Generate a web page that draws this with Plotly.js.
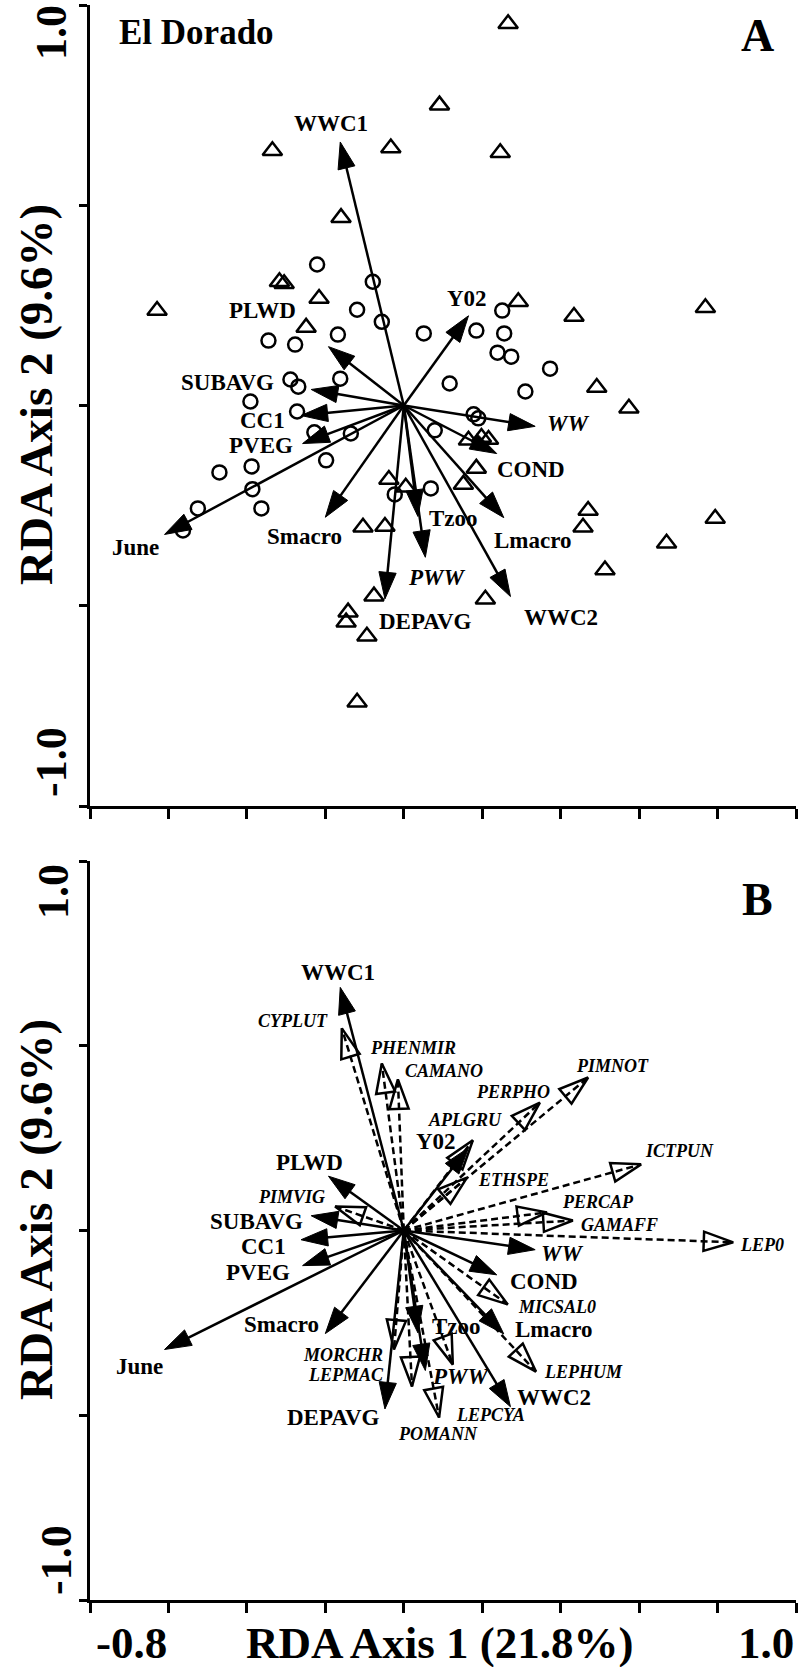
<!DOCTYPE html>
<html><head><meta charset="utf-8">
<script src="https://cdn.plot.ly/plotly-3.0.1.min.js"></script>
<style>html,body{margin:0;padding:0;background:#fff}</style>
</head><body><div id="chart" style="width:800px;height:1667px"></div>
<script>
// ---------- Panel A: site scores ----------
const triX = [0.266,0.091,0.246,-0.335,-0.033,-0.160,-0.317,-0.305,-0.629,-0.216,-0.249,0.292,0.434,0.769,0.492,0.574,0.165,0.198,0.216,0.185,0.152,-0.038,0.005,-0.104,-0.048,0.470,0.457,0.794,0.670,0.513,0.208,-0.076,-0.142,-0.147,-0.094,-0.119];
const triY = [0.953,0.750,0.631,0.636,0.643,0.469,0.309,0.304,0.237,0.267,0.195,0.259,0.222,0.244,0.045,-0.007,-0.087,-0.080,-0.085,-0.157,-0.197,-0.185,-0.204,-0.304,-0.302,-0.262,-0.304,-0.282,-0.344,-0.411,-0.484,-0.476,-0.516,-0.541,-0.576,-0.741];
const cirX = [-0.221,-0.079,-0.119,-0.056,-0.345,-0.277,-0.168,-0.162,-0.289,-0.269,-0.391,-0.272,-0.228,-0.135,-0.198,-0.470,-0.388,-0.386,-0.525,-0.363,-0.563,-0.023,0.069,0.079,0.117,0.051,0.185,0.251,0.256,0.239,0.274,0.373,0.310,0.178,0.190];
const cirY = [0.352,0.309,0.239,0.209,0.162,0.152,0.177,0.067,0.065,0.047,0.010,-0.015,-0.067,-0.070,-0.137,-0.167,-0.152,-0.209,-0.257,-0.257,-0.312,-0.222,-0.207,-0.062,0.055,0.180,0.187,0.237,0.180,0.132,0.122,0.092,0.035,-0.022,-0.032];

// ---------- Environmental variables (both panels) ----------
const envNames = ['WWC1','PLWD','SUBAVG','CC1','PVEG','June','Smacro','DEPAVG','Tzoo','PWW','Lmacro','WWC2','COND','WW','Y02'];
const envX = [-0.162,-0.192,-0.236,-0.262,-0.258,-0.610,-0.200,-0.048,0.036,0.055,0.255,0.272,0.237,0.335,0.165];
const envY = [0.658,0.147,0.040,-0.025,-0.095,-0.322,-0.279,-0.483,-0.277,-0.379,-0.280,-0.477,-0.120,-0.052,0.224];
const envItalic = ['WW','PWW'];
const envLabAX = [-0.185,-0.360,-0.449,-0.360,-0.363,-0.685,-0.254,0.056,0.127,0.084,0.330,0.401,0.325,0.419,0.160];
const envLabAY = [0.703,0.237,0.057,-0.037,-0.100,-0.354,-0.327,-0.539,-0.282,-0.429,-0.337,-0.529,-0.160,-0.045,0.267];
const envLabBX = [-0.168,-0.241,-0.376,-0.358,-0.371,-0.675,-0.312,-0.180,0.135,0.147,0.383,0.383,0.358,0.404,0.081];
const envLabBY = [0.698,0.184,0.024,-0.043,-0.114,-0.368,-0.254,-0.506,-0.260,-0.395,-0.268,-0.452,-0.138,-0.062,0.241];

// ---------- Panel B: species ----------
const spNames = ['CYPLUT','PHENMIR','CAMANO','APLGRU','PERPHO','PIMNOT','ETHSPE','ICTPUN','PERCAP','GAMAFF','LEP0','PIMVIG','MICSAL0','LEPHUM','MORCHR','LEPMAC','LEPCYA','POMANN'];
const spX = [-0.158,-0.056,-0.015,0.176,0.347,0.470,0.161,0.605,0.365,0.431,0.840,-0.175,0.265,0.337,-0.025,0.021,0.125,0.090];
const spY = [0.547,0.452,0.409,0.244,0.346,0.414,0.143,0.179,0.049,0.027,-0.032,0.065,-0.200,-0.382,-0.322,-0.422,-0.363,-0.506];
const spLabX = [-0.282,0.023,0.102,0.157,0.279,0.533,0.279,0.703,0.495,0.551,0.914,-0.287,0.391,0.457,-0.155,-0.147,0.221,0.086];
const spLabY = [0.566,0.495,0.433,0.300,0.376,0.444,0.138,0.214,0.076,0.016,-0.038,0.092,-0.206,-0.384,-0.336,-0.390,-0.498,-0.552];

// ---------- Axes ----------
const xTickVals = [-0.8,-0.6,-0.4,-0.2,0,0.2,0.4,0.6,0.8,1.0];
const yTickVals = [-1,-0.5,0,0.5,1];
const xTitle = 'RDA Axis 1 (21.8%)';
const yTitle = 'RDA Axis 2 (9.6%)';
const siteName = 'El Dorado';

const FONT = 'Liberation Serif, Times New Roman, serif';
const W = 800, H = 1667;
const M = {l:90, r:4, t:5, b:67};
const plotW = W - M.l - M.r, plotH = H - M.t - M.b;
function px(x){ return (x - M.l) / plotW; }
function py(y){ return (H - M.b - y) / plotH; }

const traces = [];
traces.push({type:'scatter', mode:'markers', x:triX, y:triY, xaxis:'x', yaxis:'y',
  marker:{symbol:'triangle-up-open', size:17, color:'black', opacity:1, line:{width:2.5, color:'black'}}, hoverinfo:'skip'});
traces.push({type:'scatter', mode:'markers', x:cirX, y:cirY, xaxis:'x', yaxis:'y',
  marker:{symbol:'circle-open', size:14, color:'black', opacity:1, line:{width:2.5, color:'black'}}, hoverinfo:'skip'});

function arrow(x, y, xa, ya, dashed){
  return {type:'scatter', mode:'lines+markers', x:[0,x], y:[0,y], xaxis:xa, yaxis:ya,
    line:{color:'black', width:2.5, dash: dashed ? '7px,4px' : 'solid'},
    marker:{symbol: dashed ? 'arrow-open' : 'arrow', size:[0, dashed ? 31 : 28], angleref:'previous',
      color:'black', opacity:1, line:{color:'black', width: dashed ? 2.5 : 1}},
    hoverinfo:'skip', cliponaxis:false};
}
for (let i=0;i<envNames.length;i++) traces.push(arrow(envX[i], envY[i], 'x', 'y', false));
for (let i=0;i<spNames.length;i++) traces.push(arrow(spX[i], spY[i], 'x2', 'y2', true));
for (let i=0;i<envNames.length;i++) traces.push(arrow(envX[i], envY[i], 'x2', 'y2', false));

const annotations = [];
function lab(text, x, y, xr, yr, size, italic){
  const t = italic ? '<b><i>'+text+'</i></b>' : '<b>'+text+'</b>';
  annotations.push({text:t, x:x, y:y, xref:xr, yref:yr, showarrow:false, xanchor:'center', yanchor:'middle',
    font:{family:FONT, size:size, color:'black'}});
}
for (let i=0;i<envNames.length;i++){
  const it = envItalic.includes(envNames[i]);
  lab(envNames[i], envLabAX[i], envLabAY[i], 'x', 'y', 23, it);
  lab(envNames[i], envLabBX[i], envLabBY[i], 'x2', 'y2', 23, it);
}
for (let i=0;i<spNames.length;i++){
  annotations.push({text:'<b><i>'+spNames[i]+'</i></b>', x:spLabX[i], y:spLabY[i], xref:'x2', yref:'y2', showarrow:false,
    xanchor:'center', yanchor:'middle', font:{family:FONT, size:18, color:'black'}});
}
function paperText(text, x, y, size, angle, xanchor){
  annotations.push({text:'<b>'+text+'</b>', x:px(x), y:py(y), xref:'paper', yref:'paper', showarrow:false,
    xanchor:xanchor||'center', yanchor:'middle', textangle:angle||0, font:{family:FONT, size:size, color:'black'}});
}
paperText(siteName, 117, 32, 35, 0, 'left');
paperText('A', 757, 36, 46);
paperText('B', 757, 900, 46);
paperText(yTitle, 36, 395, 47, -90);
paperText(yTitle, 36, 1210, 47, -90);
paperText(yTickVals[4].toFixed(1), 51, 33, 44, -90);
paperText(yTickVals[0].toFixed(1), 51, 762, 44, -90);
paperText(yTickVals[4].toFixed(1), 53, 892, 44, -90);
paperText(yTickVals[0].toFixed(1), 56, 1560, 44, -90);
paperText(xTickVals[0].toFixed(1), 131, 1643, 45);
paperText(xTickVals[xTickVals.length-1].toFixed(1), 766, 1643, 45);
paperText(xTitle, 440, 1643, 45);

const axBase = {showgrid:false, zeroline:false, showline:true, linecolor:'black', linewidth:3,
  ticks:'outside', ticklen:10, tickwidth:3, tickcolor:'black', showticklabels:false, fixedrange:true};
const layout = {
  width:W, height:H, margin:M, showlegend:false, hovermode:false,
  paper_bgcolor:'white', plot_bgcolor:'white',
  xaxis: Object.assign({}, axBase, {anchor:'y', range:[-0.8,1.0], tickvals:xTickVals}),
  yaxis: Object.assign({}, axBase, {anchor:'x', domain:[py(806),1], range:[-1,1], tickvals:yTickVals, ticklen:8}),
  xaxis2: Object.assign({}, axBase, {anchor:'y2', range:[-0.8,1.0], tickvals:xTickVals}),
  yaxis2: Object.assign({}, axBase, {anchor:'x2', domain:[0,py(861)], range:[-1,1], tickvals:yTickVals, ticklen:8}),
  annotations:annotations
};
Plotly.newPlot('chart', traces, layout, {displayModeBar:false, staticPlot:true});
</script></body></html>
